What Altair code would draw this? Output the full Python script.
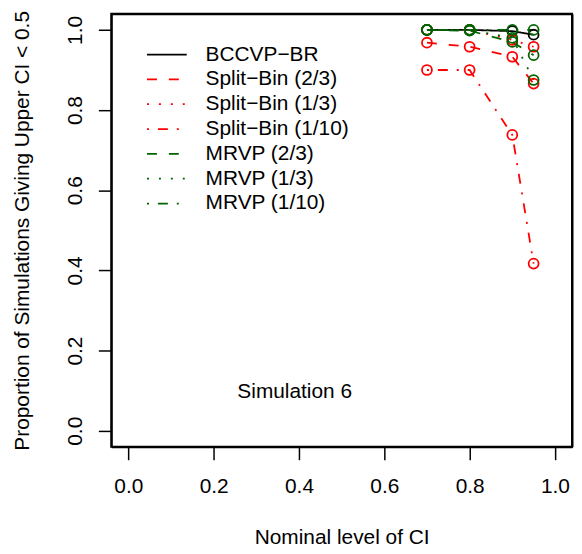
import altair as alt
import pandas as pd

levels = [0.7, 0.8, 0.9, 0.95]
series_names = ["BCCVP−BR", "Split−Bin (2/3)", "Split−Bin (1/3)", "Split−Bin (1/10)",
                "MRVP (2/3)", "MRVP (1/3)", "MRVP (1/10)"]
bccvp_br = [1.0, 1.0, 0.997, 0.988]
split_23 = [0.968, 0.958, 0.933, 0.866]
split_13 = [1.0, 1.0, 0.975, 0.958]
split_110 = [0.9, 0.9, 0.738, 0.417]
mrvp_23 = [1.0, 0.998, 0.97, 0.937]
mrvp_13 = [1.0, 1.0, 0.98, 0.875]
mrvp_110 = [1.0, 1.0, 1.0, 1.0]
series_colors = ["black", "#FF0000", "#FF0000", "#FF0000", "#006400", "#006400", "#006400"]
series_dashes = [[1, 0], [10, 12], [2, 10], [2, 9, 10, 9], [10, 12], [2, 10], [2, 9, 10, 9]]

x_ticks = [0.0, 0.2, 0.4, 0.6, 0.8, 1.0]
y_ticks = [0.0, 0.2, 0.4, 0.6, 0.8, 1.0]
annot_text = ["Simulation 6"]
annot_x = [0.39]
annot_y = [0.096]

all_vals = [bccvp_br, split_23, split_13, split_110, mrvp_23, mrvp_13, mrvp_110]
rows = []
for name, col, vals in zip(series_names, series_colors, all_vals):
    for lv, v in zip(levels, vals):
        rows.append({"level": lv, "prop": v, "series": name, "col": col})
df = pd.DataFrame(rows)
ann = pd.DataFrame({"x": annot_x, "y": annot_y, "t": annot_text})

FONT = "Liberation Sans"
FS = 21
xscale = alt.Scale(domain=[-0.04, 1.04], nice=False, zero=False)
yscale = alt.Scale(domain=[-0.04, 1.04], nice=False, zero=False)

xax = alt.Axis(orient="bottom", values=x_ticks, format=".1f", grid=False, domain=True,
               domainColor="black", domainWidth=2, tickSize=13,
               tickWidth=1.5, tickColor="black", labelFontSize=FS, labelFont=FONT,
               labelColor="black", labelPadding=16, title="Nominal level of CI",
               titleFontSize=FS, titleFont=FONT, titleFontWeight="normal",
               titleColor="black", titlePadding=30)
yax = alt.Axis(orient="left", values=y_ticks, format=".1f", grid=False, domain=True,
               domainColor="black", domainWidth=2, tickSize=13,
               tickWidth=1.5, tickColor="black", labelFontSize=FS, labelFont=FONT,
               labelColor="black", labelAngle=270, labelAlign="center",
               labelBaseline="bottom", labelPadding=13,
               title="Proportion of Simulations Giving Upper CI < 0.5",
               titleFontSize=FS, titleFont=FONT, titleFontWeight="normal",
               titleColor="black", titlePadding=32)
xtop = alt.Axis(orient="top", labels=False, ticks=False, grid=False, title=None,
                domain=True, domainColor="black", domainWidth=2)
yright = alt.Axis(orient="right", labels=False, ticks=False, grid=False, title=None,
                  domain=True, domainColor="black", domainWidth=2)

lines = alt.Chart(df).mark_line(strokeWidth=1.8).encode(
    x=alt.X("level:Q", scale=xscale, axis=xax),
    y=alt.Y("prop:Q", scale=yscale, axis=yax),
    color=alt.Color("series:N", scale=alt.Scale(domain=series_names, range=series_colors),
                    legend=alt.Legend(title=None, orient="none", legendX=45, legendY=30,
                                      symbolType="M-2,0H2", symbolSize=400,
                                      symbolStrokeWidth=1.8, labelFontSize=FS,
                                      labelFont=FONT, labelColor="black",
                                      labelOffset=28, rowPadding=4, padding=0)),
    strokeDash=alt.StrokeDash("series:N", scale=alt.Scale(domain=series_names, range=series_dashes)),
    detail="series:N",
)

points = alt.Chart(df).mark_point(shape="circle", filled=False, size=100, strokeWidth=1.8,
                                  opacity=1).encode(
    x=alt.X("level:Q", scale=xscale, axis=None),
    y=alt.Y("prop:Q", scale=yscale, axis=None),
    stroke=alt.Stroke("col:N", scale=None),
)

text = alt.Chart(ann).mark_text(fontSize=FS, font=FONT, color="black").encode(
    x=alt.X("x:Q", scale=xscale, axis=xtop),
    y=alt.Y("y:Q", scale=yscale, axis=yright),
    text="t:N",
)

chart = alt.layer(lines, points, text).resolve_axis(
    x="independent", y="independent"
).properties(
    width=464, height=436,
    background="white",
    autosize=alt.AutoSizeParams(type="none"),
    padding={"left": 104, "top": 4, "right": 2, "bottom": 100},
).configure_view(stroke="black", strokeWidth=2)

chart.save("out.html", embed_options={"renderer": "svg", "actions": False})
